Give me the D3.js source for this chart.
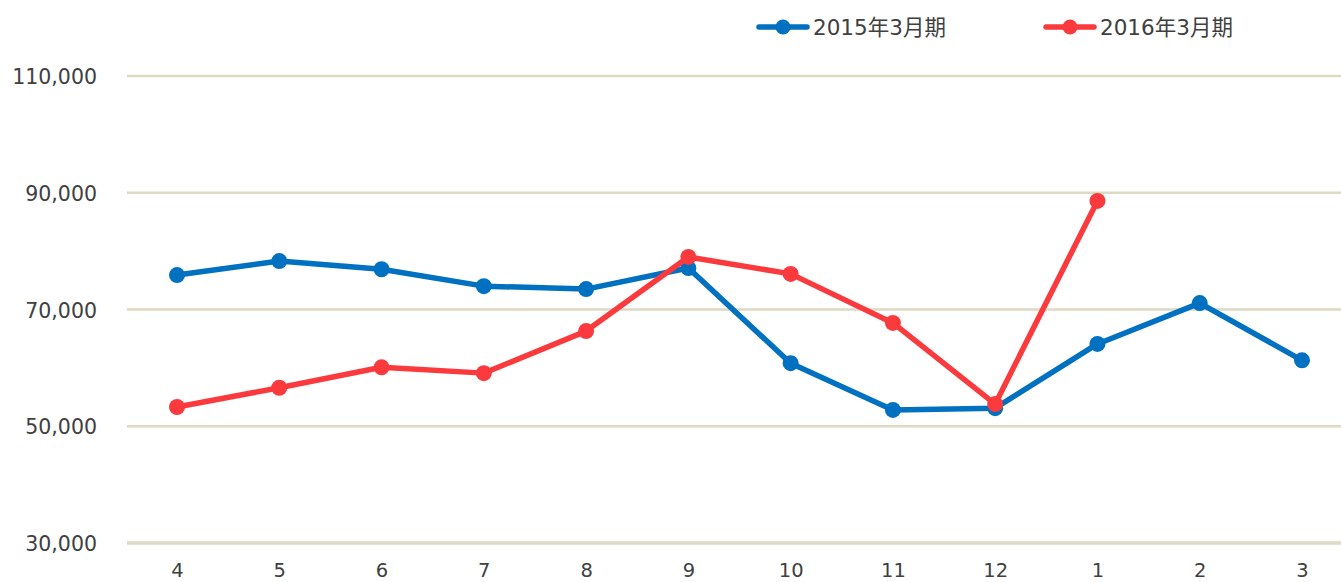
<!DOCTYPE html>
<html><head><meta charset="utf-8">
<script src="https://cdn.jsdelivr.net/npm/d3@7"></script>
<style>body{margin:0;background:#fff;}svg{display:block;}</style>
</head><body>
<svg id="c" width="1341" height="582"></svg>
<script>
const categories = ["4","5","6","7","8","9","10","11","12","1","2","3"];
const series2015 = [75900,78300,76900,74000,73500,77100,60800,52800,53100,64100,71100,61300];
const series2016 = [53300,56600,60100,59100,66300,79000,76100,67700,53800,88600];
const yTicks = [30000,50000,70000,90000,110000];
const seriesNames = ["2015年3月期","2016年3月期"];
const colors = ["#0070c0","#fb3a3e"];

const svg = d3.select("#c");
const font = "'DejaVu Sans', Verdana, sans-serif";
const x = d3.scalePoint().domain(categories).range([177,1302]);
const y = d3.scaleLinear().domain([30000,110000]).range([543,76]);

// grid
svg.append("g").selectAll("line").data(yTicks).join("line")
  .attr("x1",127).attr("x2",1341).attr("y1",d=>y(d)).attr("y2",d=>y(d))
  .attr("stroke","#ddd9c3").attr("stroke-width",d=>d===30000?3.5:2.5);

const yAxis = d3.axisLeft(y).tickValues(yTicks).tickSize(0).tickPadding(0)
  .tickFormat(d3.format(","));
const gy = svg.append("g").attr("transform","translate(97,1)").call(yAxis);
gy.select(".domain").remove();
gy.selectAll("text").attr("font-family",font).attr("font-size",20.5).attr("fill","#404040");

const xAxis = d3.axisBottom(x).tickSize(0).tickPadding(0);
const gx = svg.append("g").attr("transform","translate(0,577)").call(xAxis);
gx.select(".domain").remove();
gx.selectAll("text").attr("font-family",font).attr("font-size",19.5).attr("fill","#404040").attr("dy","0").attr("y",0);

const data = [series2015, series2016];
const line = d3.line().x((d,i)=>x(categories[i])).y(d=>y(d));
data.forEach((s,k)=>{
  const g = svg.append("g");
  g.append("path").attr("d",line(s)).attr("fill","none").attr("stroke",colors[k])
    .attr("stroke-width",5.5).attr("stroke-linejoin","round");
  g.selectAll("circle").data(s).join("circle")
    .attr("cx",(d,i)=>x(categories[i])).attr("cy",d=>y(d)).attr("r",8).attr("fill",colors[k]);
});

// legend
const legX = [757,1044];
seriesNames.forEach((n,k)=>{
  const g = svg.append("g").attr("transform",`translate(${legX[k]},27)`);
  g.append("line").attr("x1",2).attr("x2",50).attr("stroke",colors[k]).attr("stroke-width",5.5).attr("stroke-linecap","round");
  g.append("circle").attr("cx",26).attr("r",7.5).attr("fill",colors[k]);
  g.append("text").attr("x",56).attr("dy","0.35em").attr("font-family","'DejaVu Sans','Noto Sans CJK JP',sans-serif")
    .attr("font-size",21.5).attr("fill","#404040").text(n);
});
</script>
</body></html>
